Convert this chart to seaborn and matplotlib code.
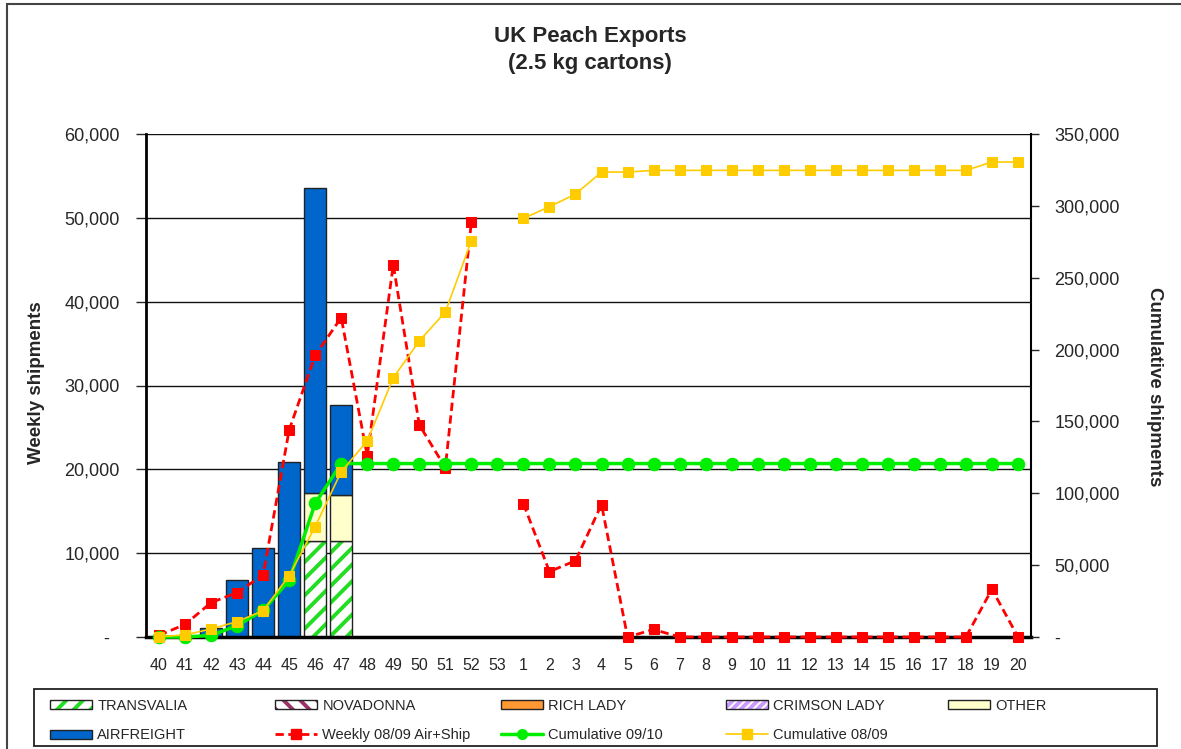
import numpy as np
import pandas as pd
import matplotlib.pyplot as plt
import seaborn as sns
from matplotlib.patches import Patch, Rectangle
from matplotlib.lines import Line2D
from matplotlib.ticker import FuncFormatter, MultipleLocator

# week numbers along the x axis (season runs over the new year)
weeks = ['40', '41', '42', '43', '44', '45', '46', '47', '48', '49', '50', '51', '52', '53',
         '1', '2', '3', '4', '5', '6', '7', '8', '9', '10', '11', '12', '13', '14', '15',
         '16', '17', '18', '19', '20']

# weekly shipments 09/10 by type (cartons)
transvalia = [0, 0, 0, 0, 0, 0, 11400, 11400, 0, 0, 0, 0, 0, 0,
              0, 0, 0, 0, 0, 0, 0, 0, 0, 0, 0, 0, 0, 0, 0, 0, 0, 0, 0, 0]
other = [0, 0, 0, 0, 0, 0, 5800, 5550, 0, 0, 0, 0, 0, 0,
         0, 0, 0, 0, 0, 0, 0, 0, 0, 0, 0, 0, 0, 0, 0, 0, 0, 0, 0, 0]
airfreight = [0, 0, 1100, 6800, 10600, 20900, 36400, 10750, 0, 0, 0, 0, 0, 0,
              0, 0, 0, 0, 0, 0, 0, 0, 0, 0, 0, 0, 0, 0, 0, 0, 0, 0, 0, 0]

# last season weekly (left axis) and both cumulative series (right axis)
weekly_0809 = [200, 1500, 4100, 5300, 7400, 24700, 33600, 38100, 21600, 44400, 25300, 20200, 49500, np.nan,
               15900, 7800, 9100, 15800, 0, 900, 0, 0, 0, 0, 0, 0, 0, 0, 0, 0, 0, 0, 5700, 0]
cum_0910 = [0, 0, 1100, 7900, 18500, 39400, 93000, 120700, 120700, 120700, 120700, 120700, 120700, 120700,
            120700, 120700, 120700, 120700, 120700, 120700, 120700, 120700, 120700, 120700, 120700,
            120700, 120700, 120700, 120700, 120700, 120700, 120700, 120700, 120700]
cum_0809 = [200, 1400, 5600, 10700, 18300, 42700, 76800, 115000, 136400, 180400, 206000, 226100, 275700, np.nan,
            291300, 299400, 308200, 323500, 323500, 324700, 324700, 324700, 324700, 324700, 324700,
            324700, 324700, 324700, 324700, 324700, 324700, 324700, 330500, 330500]

df = pd.DataFrame({'pos': np.arange(len(weeks)), 'week': weeks,
                   'transvalia': transvalia, 'other': other, 'airfreight': airfreight,
                   'weekly': weekly_0809, 'cum0910': cum_0910, 'cum0809': cum_0809})
df['seg'] = (df['pos'] > 13).astype(int)  # no 08/09 data in week 53 -> break the lines there

sns.set_style('white')
plt.rcParams['font.family'] = ['Liberation Sans', 'DejaVu Sans']
plt.rcParams['hatch.linewidth'] = 2.8

GREEN_HATCH = '#22dd22'
EDGE = '#222222'
BLUE = '#0066CC'
CREAM = '#FFFFCC'
RED = '#FF0000'
LIME = '#00EE00'
GOLD = '#FFCC00'

W, H = 1181, 749
fig = plt.figure(figsize=(W / 100, H / 100), dpi=100)
ax = fig.add_axes([146 / W, 1 - 637 / H, 885 / W, 503 / H])

bw = 0.83
# stacked bars
sns.barplot(data=df, x='pos', y='transvalia', native_scale=True, width=bw, color='white',
            edgecolor=GREEN_HATCH, linewidth=0, hatch='//', errorbar=None, saturation=1, ax=ax)
sns.barplot(data=df, x='pos', y='transvalia', native_scale=True, width=bw, fill=False,
            color=EDGE, linewidth=1, errorbar=None, ax=ax)
sns.barplot(data=df, x='pos', y='other', native_scale=True, width=bw, color=CREAM,
            edgecolor=EDGE, linewidth=1, bottom=df['transvalia'].values, errorbar=None,
            saturation=1, ax=ax)
sns.barplot(data=df, x='pos', y='airfreight', native_scale=True, width=bw, color=BLUE,
            edgecolor=EDGE, linewidth=1, bottom=(df['transvalia'] + df['other']).values,
            errorbar=None, saturation=1, ax=ax)

red_ls = (0, (3, 1.6))
sns.lineplot(data=df.dropna(subset=['weekly']), x='pos', y='weekly', units='seg', estimator=None,
             color=RED, linestyle=red_ls, linewidth=2, marker='s', markersize=7,
             markeredgecolor=RED, clip_on=False, zorder=3, ax=ax)

ax2 = ax.twinx()
sns.lineplot(data=df, x='pos', y='cum0910', color=LIME, linewidth=2.5, marker='o', markersize=9,
             markeredgecolor=LIME, clip_on=False, ax=ax2)
sns.lineplot(data=df.dropna(subset=['cum0809']), x='pos', y='cum0809', units='seg', estimator=None,
             color=GOLD, linewidth=1.2, marker='s', markersize=7, markeredgecolor=GOLD,
             clip_on=False, ax=ax2)

# axes
ax.set_xlim(-0.5, len(weeks) - 0.5)
ax.set_ylim(0, 60000)
ax2.set_ylim(0, 350000)
ax.yaxis.set_major_locator(MultipleLocator(10000))
ax2.yaxis.set_major_locator(MultipleLocator(50000))
ax.yaxis.set_major_formatter(FuncFormatter(lambda v, _: '-  ' if v == 0 else f'{v:,.0f}'))
ax2.yaxis.set_major_formatter(FuncFormatter(lambda v, _: '-' if v == 0 else f'{v:,.0f}'))
ax.set_xticks(range(len(weeks)), labels=weeks)
ax.set_xticks(np.arange(-0.5, len(weeks), 1), minor=True)
ax.tick_params(axis='x', which='major', length=0, pad=15, labelsize=11.5)
ax.tick_params(axis='x', which='minor', length=6, width=1, direction='out', color=EDGE)
ax.tick_params(axis='y', length=7, width=1, direction='out', pad=12, labelsize=13, left=True)
ax2.tick_params(axis='y', length=6, width=1, direction='out', pad=11, labelsize=13, right=True)
ax.set_xlabel('')
ax.set_ylabel('')
ax2.set_ylabel('')

ax.set_axisbelow(True)
ax.yaxis.grid(True, color='#111111', linewidth=1)
ax.xaxis.grid(False)
ax2.grid(False)
for s in ['top', 'right']:
    ax.spines[s].set_visible(False)
ax.spines['left'].set_linewidth(2)
ax.spines['bottom'].set_linewidth(2.5)
ax.spines['left'].set_color('black')
ax.spines['bottom'].set_color('black')
for s in ['top', 'left', 'bottom']:
    ax2.spines[s].set_visible(False)
ax2.spines['right'].set_linewidth(1.5)
ax2.spines['right'].set_color('black')

fig.text(590 / W, 1 - 50 / H, 'UK Peach Exports\n(2.5 kg cartons)', ha='center', va='center',
         fontsize=16, fontweight='bold', linespacing=1.4)
fig.text(37 / W, 1 - 383 / H, 'Weekly shipments', rotation=90, ha='center', va='center',
         fontsize=13.5, fontweight='bold')
fig.text(1155 / W, 1 - 387 / H, 'Cumulative shipments', rotation=270, ha='center', va='center',
         fontsize=13.5, fontweight='bold')

# legend, laid out in fixed columns like the original
def box(face, hatch=None, hatch_col=None):
    if hatch:
        return (Patch(facecolor=face, edgecolor=hatch_col, hatch=hatch, linewidth=0),
                Patch(facecolor='none', edgecolor=EDGE, linewidth=1))
    return Patch(facecolor=face, edgecolor=EDGE, linewidth=1)

h_trans = box('white', '//', GREEN_HATCH)
h_nova = box('white', '\\\\', '#993366')
h_rich = box('#FF9933')
h_crim = box('white', '////', '#CC99FF')
h_other = box(CREAM)
h_air = box(BLUE)
h_weekly = Line2D([], [], color=RED, linestyle=red_ls, linewidth=2, marker='s', markersize=6.5)
h_c0910 = Line2D([], [], color=LIME, linewidth=2.5, marker='o', markersize=7)
h_c0809 = Line2D([], [], color=GOLD, linewidth=1.2, marker='s', markersize=6.5)

columns = [([h_trans, h_air], ['TRANSVALIA', 'AIRFREIGHT']),
           ([h_nova, h_weekly], ['NOVADONNA', 'Weekly 08/09 Air+Ship']),
           ([h_rich, h_c0910], ['RICH LADY', 'Cumulative 09/10']),
           ([h_crim, h_c0809], ['CRIMSON LADY', 'Cumulative 08/09']),
           ([h_other], ['OTHER'])]
col_x = [50, 275, 501, 726, 948]
for (hs, ls), x in zip(columns, col_x):
    fig.legend(hs, ls, loc='upper left', bbox_to_anchor=(x / W, 1 - 699 / H), frameon=False,
               fontsize=10.5, handlelength=2.9, handleheight=0.6, handletextpad=0.35,
               borderpad=0, borderaxespad=0, labelspacing=1.05)

fig.add_artist(Rectangle((34 / W, 1 - 746 / H), 1123 / W, 57 / H, transform=fig.transFigure,
                         fill=False, edgecolor=EDGE, linewidth=1.3))
fig.add_artist(Rectangle((7 / W, -0.05), 1.1, 1.05 - 4 / H, transform=fig.transFigure,
                         fill=False, edgecolor='#444444', linewidth=1.5))

fig.savefig('out.png', dpi=100)
